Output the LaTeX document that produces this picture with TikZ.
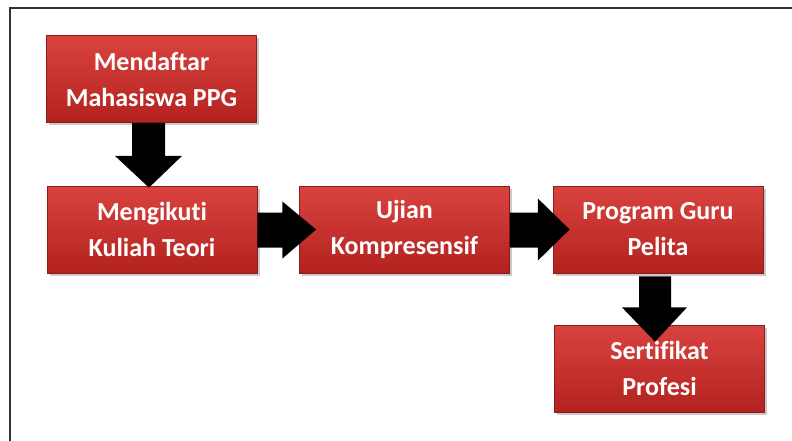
\documentclass[tikz,border=0pt]{standalone}
\usepackage{fontspec}
\setmainfont[Ligatures=NoCommon,RawFeature={-liga;-clig;-dlig}]{Carlito}
\usetikzlibrary{calc,shadows}
\definecolor{boxtop}{HTML}{D9433F}
\definecolor{boxbot}{HTML}{B3221F}
\definecolor{boxedge}{HTML}{8A1C1A}
\definecolor{framecol}{HTML}{333333}
\tikzset{
  stepbox/.style={draw=boxedge, line width=0.8pt, top color=boxtop, bottom color=boxbot,
    minimum width=210pt, minimum height=87pt, inner sep=2pt, align=center,
    text=white, font=\bfseries\fontsize{26}{36}\selectfont,
    drop shadow={shadow xshift=2.5pt, shadow yshift=-2.5pt, opacity=0.35, fill=black!60}},
  blockarrow/.style={fill=black, draw=none},
}
\begin{document}
\begin{tikzpicture}[x=1pt, y=-1pt]
\useasboundingbox (0,0) rectangle (792,441);
\draw[framecol, line width=2pt] (10,441) -- (10,8) -- (792,8);

\node[stepbox] (m1) at (151.5,79) {Mendaftar\\Mahasiswa PPG};
\node[stepbox] (m2) at (152,229.5) {Mengikut\kern0pt i\\Kuliah Teori};
\node[stepbox] (m3) at (404.5,229.5) {Ujian\\Kompresensif};
\node[stepbox] (m4) at (658,229.5) {Program Guru\\Pelita};
\node[stepbox] (m5) at (659.5,368.5) {Sert\kern0pt if\kern0pt ikat\\Profesi};

% down arrow m1 -> m2
\fill[blockarrow] ($(m1.south)+(-19.5,0)$) -- ($(m1.south)+(13.5,0)$)
  -- ($(m1.south)+(13.5,33)$) -- ($(m1.south)+(30.5,33)$)
  -- ($(m2.north)+(-3,2)$)
  -- ($(m1.south)+(-36.5,33)$) -- ($(m1.south)+(-19.5,33)$) -- cycle;
% right arrow m2 -> m3
\fill[blockarrow] ($(m2.east)+(0,-17)$) -- ($(m2.east)+(25,-17)$)
  -- ($(m2.east)+(25,-28)$) -- ($(m3.west)+(17,0)$)
  -- ($(m2.east)+(25,29)$) -- ($(m2.east)+(25,18)$) -- ($(m2.east)+(0,18)$) -- cycle;
% right arrow m3 -> m4
\fill[blockarrow] ($(m3.east)+(0,-17)$) -- ($(m3.east)+(28,-17)$)
  -- ($(m3.east)+(28,-31)$) -- ($(m4.west)+(17,0)$)
  -- ($(m3.east)+(28,31)$) -- ($(m3.east)+(28,18)$) -- ($(m3.east)+(0,18)$) -- cycle;
% down arrow m4 -> m5
\fill[blockarrow] ($(m4.south)+(-19,3)$) -- ($(m4.south)+(13,3)$)
  -- ($(m4.south)+(13,34)$) -- ($(m4.south)+(29,34)$)
  -- ($(m5.north)+(-4.5,17)$)
  -- ($(m4.south)+(-36,34)$) -- ($(m4.south)+(-19,34)$) -- cycle;
\end{tikzpicture}
\end{document}
